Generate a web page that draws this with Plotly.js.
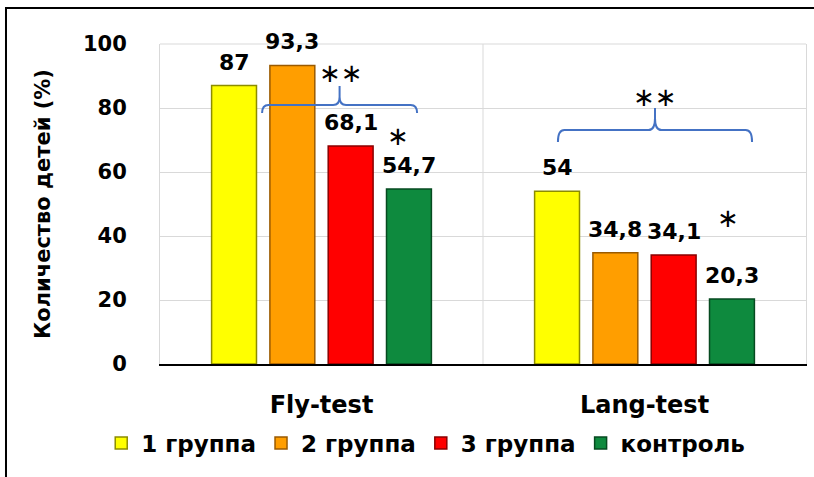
<!DOCTYPE html>
<html>
<head>
<meta charset="utf-8">
<script src="https://cdn.plot.ly/plotly-3.0.1.min.js"></script>
<style>
  body { margin: 0; background: #fff; }
  #chart { width: 814px; height: 477px; }
</style>
</head>
<body>
<div id="chart"></div>
<script>
// tests and groups
var tests = ['Fly-test', 'Lang-test'];
var groupNames = ['1 группа', '2 группа', '3 группа', 'контроль'];

// percent of children per group
var group1 = [87, 54];
var group2 = [93.3, 34.8];
var group3 = [68.1, 34.1];
var control = [54.7, 20.3];

var yTicks = [0, 20, 40, 60, 80, 100];

var colors = ['#FFFF00', '#FF9E00', '#FF0000', '#0E8A3E'];
var edges = ['#8C8C00', '#9A5A00', '#8A0000', '#064A20'];

var font = '"DejaVu Sans", sans-serif';
var BARGAP = 0.278;

function fmt(v){
    return String(v).replace('.', ',');
}

var series = [group1, group2, group3, control];
var data = series.map(function(vals, i){
    return {
        type: 'bar',
        name: groupNames[i],
        x: tests.map(function(t, j){ return j; }),
        y: vals,
        marker: {color: colors[i], line: {color: edges[i], width: 1.5}},
        hoverinfo: 'skip'
    };
});

// value labels, sitting a little above each bar
var annotations = [];
var slot = (1 - BARGAP) / series.length;
series.forEach(function(vals, i){
    vals.forEach(function(v, j){
        annotations.push({
            x: j + (i - (series.length - 1) / 2) * slot,
            y: v,
            yanchor: 'bottom',
            yshift: 9,
            text: fmt(v),
            showarrow: false,
            font: {family: font, size: 22, color: '#000', weight: 'bold'}
        });
    });
});

// curly brace path in data coords
function brace(x0, x1, yEnd, yH, yPeak){
    var xc = (x0 + x1) / 2, dx = 0.02, dy = (yH - yEnd);
    return 'M' + x0 + ',' + yEnd +
        ' Q' + x0 + ',' + yH + ' ' + (x0 + dx) + ',' + yH +
        ' L' + (xc - dx) + ',' + yH +
        ' Q' + xc + ',' + yH + ' ' + xc + ',' + (yH + dy) +
        ' L' + xc + ',' + yPeak +
        ' M' + xc + ',' + (yH + dy) +
        ' Q' + xc + ',' + yH + ' ' + (xc + dx) + ',' + yH +
        ' L' + (x1 - dx) + ',' + yH +
        ' Q' + x1 + ',' + yH + ' ' + x1 + ',' + yEnd;
}

var braceLine = {color: '#4472C4', width: 2};

var shapes = [
    {type: 'line', xref: 'x', yref: 'paper', x0: 0.5, x1: 0.5, y0: 0, y1: 1,
     line: {color: '#D9D9D9', width: 1}},
    {type: 'line', xref: 'paper', yref: 'paper', x0: 0, x1: 1, y0: 1, y1: 1,
     line: {color: '#D9D9D9', width: 1}},
    {type: 'path', path: brace(-0.184, 0.296, 78.4, 80.9, 86.9), line: braceLine},
    {type: 'path', path: brace(0.732, 1.333, 69.4, 73.1, 80), line: braceLine},
    // outer frame (top and left edges visible)
    {type: 'rect', xref: 'paper', yref: 'paper', x0: -0.2384, x1: 1.06, y0: -0.4, y1: 1.1125,
     line: {color: '#000', width: 2}}
];

var starFont = {family: 'DejaVu Sans', size: 26, color: '#000'};
annotations.push(
    {x: 0.059, y: 91, text: '∗∗', showarrow: false, font: starFont},
    {x: 0.237, y: 71.2, text: '∗', showarrow: false, font: starFont},
    {x: 1.032, y: 83.4, text: '∗∗', showarrow: false, font: starFont},
    {x: 1.258, y: 45.6, text: '∗', showarrow: false, font: starFont}
);

var layout = {
    width: 814,
    height: 477,
    margin: {l: 160, r: 8, t: 44, b: 113, autoexpand: false},
    paper_bgcolor: '#fff',
    plot_bgcolor: '#fff',
    barmode: 'group',
    bargap: BARGAP,
    bargroupgap: 0.23,
    showlegend: true,
    legend: {
        orientation: 'h',
        xref: 'container', yref: 'container',
        x: 0.523, xanchor: 'center',
        y: 0.071, yanchor: 'middle',
        font: {family: font, size: 23, color: '#000', weight: 'bold'},
        traceorder: 'normal'
    },
    xaxis: {
        range: [-0.5, 1.5],
        tickvals: [0, 1],
        ticktext: tests,
        showgrid: false,
        zeroline: false,
        showline: true,
        linecolor: '#000',
        linewidth: 1.5,
        ticks: '',
        ticklabelstandoff: 19,
        tickfont: {family: font, size: 24, color: '#000', weight: 'bold'}
    },
    yaxis: {
        range: [0, 100],
        tickvals: yTicks,
        showgrid: true,
        gridcolor: '#D9D9D9',
        zeroline: false,
        showline: true,
        mirror: true,
        linecolor: '#D9D9D9',
        ticks: '',
        ticklabelstandoff: 28,
        tickfont: {family: font, size: 21, color: '#000', weight: 'bold'},
        title: {
            text: 'Количество детей (%)',
            font: {family: font, size: 21, color: '#000', weight: 'bold'},
            standoff: 26
        }
    },
    shapes: shapes,
    annotations: annotations
};

Plotly.newPlot('chart', data, layout, {displayModeBar: false, staticPlot: true});
</script>
</body>
</html>
